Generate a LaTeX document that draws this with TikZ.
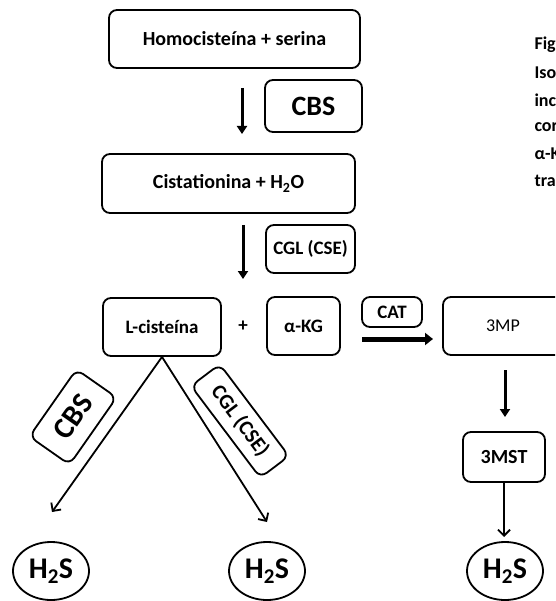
\documentclass[tikz,border=0pt]{standalone}
\usepackage{fontspec}
\setmainfont{Carlito}
\usetikzlibrary{arrows.meta,shapes.geometric}

\begin{document}
\begin{tikzpicture}[x=1pt,y=-1pt,
    every node/.style={font=\bfseries\fontsize{19}{21}\selectfont},
    caja/.style={draw,rounded corners=8pt,line width=1.8pt,inner sep=0pt},
    gas/.style={draw,ellipse,line width=1.8pt,inner sep=0pt,
      minimum width=76pt,minimum height=58pt,
      font=\bfseries\fontsize{30}{32}\selectfont},
    flecha/.style={line width=3pt,-{Triangle[length=8pt,width=10pt]}},
    rama/.style={line width=1.8pt,-{Straight Barb[length=6pt,width=12pt]}},
    nota/.style={anchor=west,font=\bfseries\fontsize{18}{20}\selectfont}]
  \clip (0,0) rectangle (555,601);
  % ruta de la homocisteina
  \node[caja,minimum width=251pt,minimum height=58pt,
    font=\bfseries\fontsize{20}{22}\selectfont] (hcy) at (234.5,39) {Homocisteína + serina};
  \node[caja,minimum width=97pt,minimum height=52pt,
    font=\bfseries\fontsize{28}{30}\selectfont] (cbs) at (313.5,106) {CBS};
  \node[caja,minimum width=253pt,minimum height=59pt,
    font=\bfseries\fontsize{20}{22}\selectfont] (cth) at (228.5,183.5) {Cistationina + H\textsubscript{2}O};
  \node[caja,minimum width=89pt,minimum height=48pt] (cgl) at (310.5,249) {CGL (CSE)};
  \node[caja,minimum width=118pt,minimum height=58pt] (cys) at (162,327) {L-cisteína};
  \node (mas) at (243,326) {+};
  \node[caja,minimum width=73pt,minimum height=58pt] (akg) at (303.5,326) {α-KG};
  \node[caja,minimum width=60pt,minimum height=30pt] (cat) at (392,312) {CAT};
  \node[caja,minimum width=120pt,minimum height=58pt,
    font=\fontsize{18}{20}\selectfont] (mp) at (503,326) {3MP};
  \node[caja,minimum width=82pt,minimum height=50pt,
    font=\bfseries\fontsize{20}{22}\selectfont] (mst) at (504,457) {3MST};
  % enzimas inclinadas
  \node[caja,minimum width=82pt,minimum height=49pt,rotate=55,
    font=\bfseries\fontsize{30}{32}\selectfont] (cbsb) at (73,417) {CBS};
  \node[caja,minimum width=115pt,minimum height=36pt,rotate=-53,
    font=\bfseries\fontsize{21}{23}\selectfont] (cglb) at (240,421) {CGL (CSE)};
  % H2S
  \node[gas] (hsa) at (51,571) {H\textsubscript{2}S};
  \node[gas] (hsb) at (267,571) {H\textsubscript{2}S};
  \node[gas] (hsc) at (505,571) {H\textsubscript{2}S};
  % texto al margen
  \node[nota] (t1) at (531,45) {Fig};
  \node[nota] (t2) at (531,73) {Iso};
  \node[nota] (t3) at (531,100) {inc};
  \node[nota] (t4) at (531,127) {cor};
  \node[nota] (t5) at (531,154) {α-K};
  \node[nota] (t6) at (531,181) {tra};
  % puntos de las flechas
  \coordinate (a1) at (242,88);
  \coordinate (b1) at (242,134);
  \coordinate (a2) at (243,225);
  \coordinate (b2) at (243,279);
  \coordinate (a3) at (362,339);
  \coordinate (b3) at (433,339);
  \coordinate (a4) at (505,370);
  \coordinate (b4) at (505,417);
  \coordinate (pa) at (52,512);
  \coordinate (pb) at (267,522);
  \coordinate (pc) at (504,537);
  \draw[flecha] (a1) -- (b1);
  \draw[flecha] (a2) -- (b2);
  \draw[line width=5pt,-{Triangle[length=8pt,width=12pt]}] (a3) -- (b3);
  \draw[flecha] (a4) -- (b4);
  \draw[rama] (cys.south) -- (pa);
  \draw[rama] (cys.south) -- (pb);
  \draw[rama] (mst.south) -- (pc);
\end{tikzpicture}
\end{document}
